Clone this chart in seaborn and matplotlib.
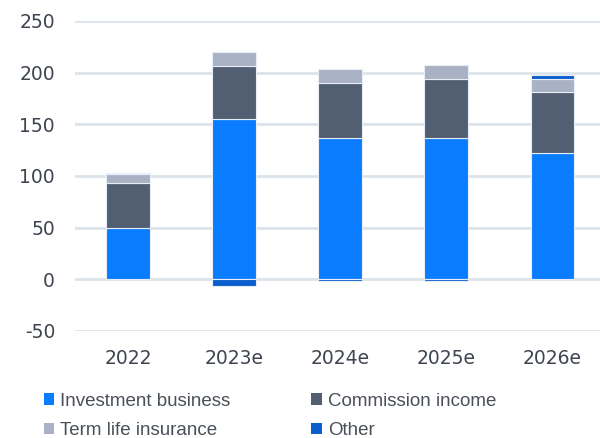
import matplotlib
matplotlib.use("Agg")
import matplotlib.pyplot as plt
from matplotlib.patches import Patch
import seaborn as sns
import numpy as np

years = ["2022", "2023e", "2024e", "2025e", "2026e"]
investment = [50, 155, 137, 137, 122]
commission = [43, 51, 53, 57, 59]
term_life = [9, 14, 14, 13, 13]
other = [1, -6, -2, -2, 4]

series_names = ["Investment business", "Commission income", "Term life insurance", "Other"]
colors = ["#0A7CFF", "#525E72", "#A9B1C4", "#0B5FCC"]
yticks = [-50, 0, 50, 100, 150, 200, 250]

sns.set_theme(style="white")
plt.rcParams["font.family"] = ["DejaVu Sans"]

fig = plt.figure(figsize=(6.0, 4.38), dpi=100)
ax = fig.add_axes([0.125, 0.2443, 0.875, 0.7078])

series = [investment, commission, term_life, other]
pos_base = np.zeros(len(years))
neg_base = np.zeros(len(years))
for vals, col in zip(series, colors):
    v = np.array(vals, dtype=float)
    bottom = np.where(v >= 0, pos_base, neg_base)
    sns.barplot(x=years, y=v, bottom=bottom, color=col, width=0.41,
                edgecolor="#E8EEF8", linewidth=0.8, ax=ax, saturation=1)
    pos_base = pos_base + np.where(v >= 0, v, 0)
    neg_base = neg_base + np.where(v < 0, v, 0)

ax.set_ylim(-50, 250)
ax.set_xlim(-0.5, 4.45)
ax.set_yticks(yticks)
ax.set_yticklabels([str(t) for t in yticks])
ax.yaxis.grid(True, color="#DDE3EA", linewidth=2)
ax.set_axisbelow(True)
for s in ax.spines.values():
    s.set_visible(False)
ax.tick_params(axis="both", length=0, labelsize=13.5, colors="#3E4550")
ax.tick_params(axis="y", pad=14.4)
ax.tick_params(axis="x", pad=13)
ax.set_xlabel("")
ax.set_ylabel("")

handles = [Patch(facecolor=c, edgecolor="none") for c in colors]
order = [0, 2, 1, 3]
leg = fig.legend([handles[i] for i in order], [series_names[i] for i in order],
           ncol=2, loc="upper left", bbox_to_anchor=(0.06, 0.121),
           frameon=False, fontsize=13.5, handlelength=0.55, handleheight=0.55,
           handletextpad=0.35, columnspacing=4.3, labelspacing=0.66,
           labelcolor="#4A5058", borderaxespad=0)
for t in leg.get_texts():
    t.set_fontfamily(["Liberation Sans", "DejaVu Sans"])

fig.savefig("out.png", dpi=100)
